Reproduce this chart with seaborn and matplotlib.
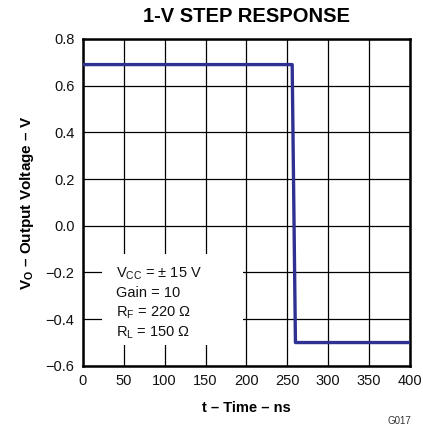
import matplotlib
matplotlib.use("Agg")
import matplotlib.pyplot as plt
import seaborn as sns
import pandas as pd
from matplotlib.patches import Rectangle

# step response
tiempo_ns = [0, 256, 260, 400]
salida_v = [0.69, 0.69, -0.50, -0.50]

x_ticks = [0, 50, 100, 150, 200, 250, 300, 350, 400]
y_ticks = [-0.6, -0.4, -0.2, 0.0, 0.2, 0.4, 0.6, 0.8]
y_labels = ["\u22120.6", "\u22120.4", "\u22120.2", "0.0", "0.2", "0.4", "0.6", "0.8"]

condiciones = ["V$_{\\rm CC}$ = \u00b1 15 V", "Gain = 10",
               "R$_{\\rm F}$ = 220 \u03a9", "R$_{\\rm L}$ = 150 \u03a9"]

sns.set_style("white")
plt.rcParams["font.family"] = ["Liberation Sans", "DejaVu Sans"]
plt.rcParams["mathtext.fontset"] = "custom"
plt.rcParams["mathtext.rm"] = "Liberation Sans"
plt.rcParams["mathtext.bf"] = "Liberation Sans:bold"
plt.rcParams["text.color"] = "black"
plt.rcParams["axes.labelcolor"] = "black"

fig = plt.figure(figsize=(4.23, 4.32), dpi=100)
ax = fig.add_axes([0.196, 0.153, 0.773, 0.757])

df = pd.DataFrame({"t": tiempo_ns, "v": salida_v})
sns.lineplot(data=df, x="t", y="v", ax=ax, color="#2E3192", lw=2.4,
             estimator=None, sort=False, zorder=3)

ax.set_xlim(0, 400)
ax.set_ylim(-0.6, 0.8)
ax.set_xticks(x_ticks)
ax.set_yticks(y_ticks)
ax.set_yticklabels(y_labels)
ax.tick_params(labelsize=10.5, length=0, pad=6, colors="#111111")
ax.grid(True, color="black", lw=0.9)
ax.set_axisbelow(True)
for s in ax.spines.values():
    s.set_color("black")
    s.set_linewidth(1.8)

# white box for the test conditions
ax.add_patch(Rectangle((0.058, 0.064), 0.431, 0.279, transform=ax.transAxes,
                       facecolor="white", edgecolor="none", zorder=2))
for i, txt in enumerate(condiciones):
    ax.text(0.101, 0.272 - i * 0.06, txt, transform=ax.transAxes, fontsize=10.5,
            color="#111111", va="baseline", ha="left", zorder=4)

ax.set_title("1-V STEP RESPONSE", fontsize=14.5, fontweight="bold", pad=12,
             color="black")
ax.set_xlabel("t \u2013 Time \u2013 ns", fontsize=10.5, fontweight="bold", labelpad=9)
ax.set_ylabel("V$_{\\bf O}$ \u2013 Output Voltage \u2013 V", fontsize=11,
              fontweight="bold", labelpad=7)

fig.text(0.972, 0.018, "G017", fontsize=7, ha="right", va="baseline", color="#333333")

fig.savefig("out.png", dpi=100)
